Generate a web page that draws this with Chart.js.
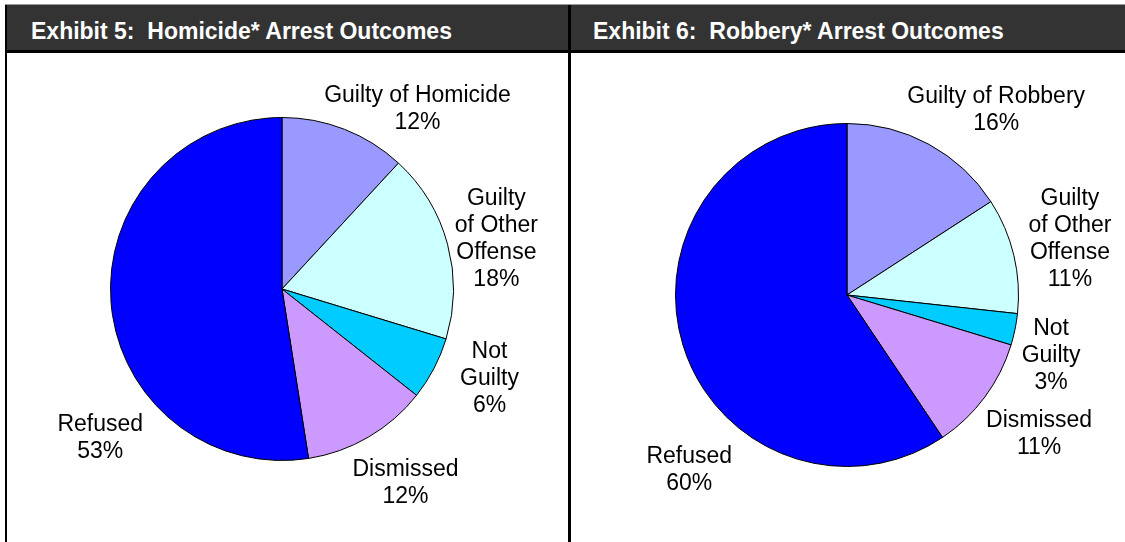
<!DOCTYPE html>
<html>
<head>
<meta charset="utf-8">
<style>
  body { margin: 0; background: #fff; width: 1125px; height: 542px; overflow: hidden; position: relative; font-family: "Liberation Sans", Arial, sans-serif; }
  .topline { position: absolute; left: 5px; top: 4px; width: 1120px; height: 1px; background: #999; }
  .header { position: absolute; left: 5px; top: 5px; width: 1120px; height: 45px; background: #333; border-bottom: 3px solid #000; }
  .title { position: absolute; top: 11px; height: 40px; line-height: 40px; color: #fff; font-weight: bold; font-size: 23px; white-space: pre; }
  .vline { position: absolute; top: 5px; bottom: 0; background: #000; }
  canvas { position: absolute; }
</style>
</head>
<body>
<div class="topline"></div>
<div class="header"></div>
<div class="title" style="left: 31px;">Exhibit 5:  Homicide* Arrest Outcomes</div>
<div class="title" style="left: 593px;">Exhibit 6:  Robbery* Arrest Outcomes</div>
<div class="vline" style="left: 5px; width: 2px;"></div>
<div class="vline" style="left: 568px; width: 3px;"></div>

<canvas id="homicide" width="561" height="489" style="left: 7px; top: 53px;"></canvas>
<canvas id="robbery" width="554" height="489" style="left: 571px; top: 53px;"></canvas>

<script src="https://cdn.jsdelivr.net/npm/chart.js"></script>
<script>
  // data
  const homicideLabels = [['Guilty of Homicide'], ['Guilty', 'of Other', 'Offense'], ['Not', 'Guilty'], ['Dismissed'], ['Refused']];
  const homicideValues = [12, 18, 6, 12, 53];
  const robberyLabels = [['Guilty of Robbery'], ['Guilty', 'of Other', 'Offense'], ['Not', 'Guilty'], ['Dismissed'], ['Refused']];
  const robberyValues = [16, 11, 3, 11, 60];

  const sliceColors = ['#9999FF', '#CCFFFF', '#00CCFF', '#CC99FF', '#0000FF'];

  // where each label block sits, relative to the pie centre, in radius units
  const homicideLabelPos = [[0.79, -1.06], [1.25, -0.30], [1.21, 0.51], [0.72, 1.12], [-1.06, 0.86]];
  const robberyLabelPos = [[0.87, -1.09], [1.30, -0.34], [1.19, 0.34], [1.12, 0.80], [-0.92, 1.01]];

  const outsideLabels = {
    id: 'outsideLabels',
    afterDraw(chart, args, opts) {
      const ctx = chart.ctx;
      const meta = chart.getDatasetMeta(0);
      const values = chart.data.datasets[0].data;
      ctx.save();
      ctx.font = '23px "Liberation Sans", Arial, sans-serif';
      ctx.fillStyle = '#000';
      ctx.textAlign = 'center';
      ctx.textBaseline = 'middle';
      meta.data.forEach((arc, i) => {
        const r = arc.outerRadius;
        const lines = chart.data.labels[i].concat([values[i] + '%']);
        const cx = arc.x + opts.pos[i][0] * r;
        const cy = arc.y + opts.pos[i][1] * r + 2;
        const lh = 27;
        const y0 = cy - (lines.length - 1) * lh / 2;
        lines.forEach((t, k) => ctx.fillText(t, cx, y0 + k * lh));
      });
      ctx.restore();
    }
  };

  function makePie(id, labels, values, pos, padding) {
    new Chart(document.getElementById(id), {
      type: 'pie',
      data: {
        labels: labels,
        datasets: [{
          data: values,
          backgroundColor: sliceColors,
          borderColor: '#000',
          borderWidth: 1,
          hoverOffset: 0
        }]
      },
      options: {
        responsive: false,
        animation: false,
        layout: { padding: padding },
        plugins: {
          legend: { display: false },
          tooltip: { enabled: false },
          outsideLabels: { pos: pos }
        }
      },
      plugins: [outsideLabels]
    });
  }

  makePie('homicide', homicideLabels, homicideValues, homicideLabelPos, { left: 103, right: 114, top: 64, bottom: 81 });
  makePie('robbery', robberyLabels, robberyValues, robberyLabelPos, { left: 104, right: 106, top: 70, bottom: 75 });
</script>
</body>
</html>
